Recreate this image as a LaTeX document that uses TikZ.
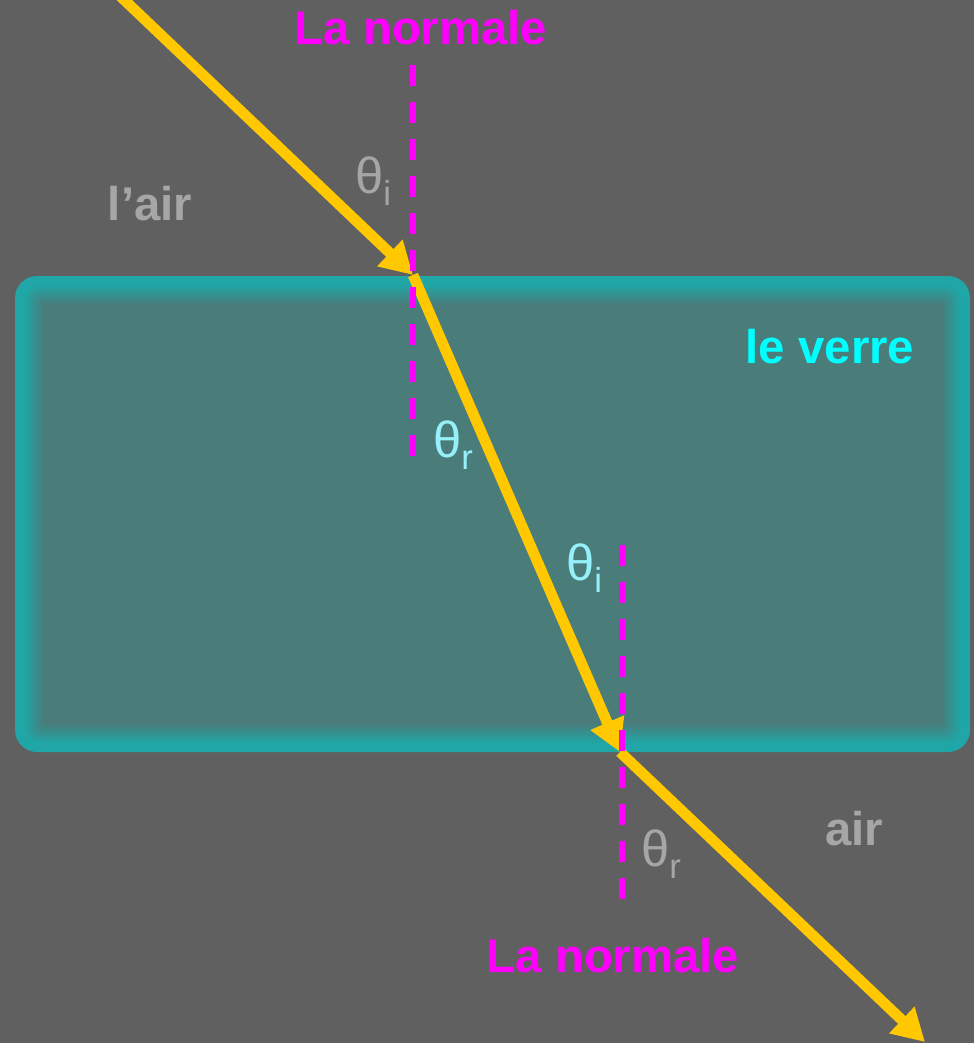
\documentclass[tikz,border=0pt]{standalone}
\usepackage{fontspec}
\setmainfont{Liberation Sans}
\usetikzlibrary{arrows.meta}

\definecolor{bggray}{RGB}{96,96,96}
\definecolor{edgeteal}{RGB}{32,166,166}
\definecolor{glassfill}{RGB}{74,124,122}
\definecolor{rayyellow}{RGB}{255,200,0}
\definecolor{normalmag}{RGB}{255,0,255}
\definecolor{airgray}{RGB}{166,166,166}
\definecolor{verrecyan}{RGB}{0,255,255}
\definecolor{anglecyan}{RGB}{150,240,250}

\newcommand{\angsub}[1]{θ{\fontsize{26}{28}\selectfont\raisebox{-9pt}{#1}}}

\begin{document}
\begin{tikzpicture}[
    x=0.75pt, y=-0.75pt,
    ray/.style={
        draw=rayyellow, line width=8pt,
        -{Triangle[length=24pt, width=26pt]}
    },
    normal/.style={
        draw=normalmag, line width=4.5pt,
        dash pattern=on 15.75pt off 12pt
    },
    medium/.style={
        inner sep=0pt,
        font=\fontsize{35.5}{40}\selectfont\bfseries
    },
    angle/.style={
        inner sep=0pt, anchor=base west,
        font=\fontsize{38}{40}\selectfont
    }
]

% Background
\useasboundingbox (0,0) rectangle (974,1043);
\fill[bggray] (0,0) rectangle (974,1043);
\clip (0,0) rectangle (974,1043);

% Glass block with glowing edge
\foreach \i in {0,...,14} {
    \pgfmathsetmacro\mix{min(100,max(0,(14-\i)*10))}
    \fill[edgeteal!\mix!glassfill, rounded corners={max(4,22-1.5*\i)*0.75pt}]
        ({15+2*\i},{276+2*\i}) rectangle ({970-2*\i},{752-2*\i});
}

% Ray points
\coordinate (src) at (118,-6);
\coordinate (hitA) at (413,275);
\coordinate (hitB) at (620,752);
\coordinate (dst) at (925,1042);

% Rays
\draw[ray] (src) -- (hitA);
\draw[ray] (hitA) -- (hitB);
\draw[ray] (hitB) -- (dst);

% Normals
\coordinate (nAtop) at (413,65);
\coordinate (nAbot) at (413,462);
\coordinate (nBtop) at (622,545);
\coordinate (nBbot) at (622,905);
\draw[normal] (nAtop) -- (nAbot);
\draw[normal] (nBtop) -- (nBbot);

% Labels
\node[medium, text=normalmag] (normA) at (421,28) {La normale};
\node[medium, text=normalmag] (normB) at (613,956) {La normale};
\node[medium, text=airgray] (airtop) at (150,204) {l’air};
\node[medium, text=airgray] (airbot) at (854,829) {air};
\node[medium, text=verrecyan] (verre) at (830,347) {le verre};

% Angles
\node[angle, text=airgray] (thiA) at (355,193) {\angsub{i}};
\node[angle, text=anglecyan] (thrA) at (433,457) {\angsub{r}};
\node[angle, text=anglecyan] (thiB) at (566,580) {\angsub{i}};
\node[angle, text=airgray] (thrB) at (641,866) {\angsub{r}};

\end{tikzpicture}
\end{document}
